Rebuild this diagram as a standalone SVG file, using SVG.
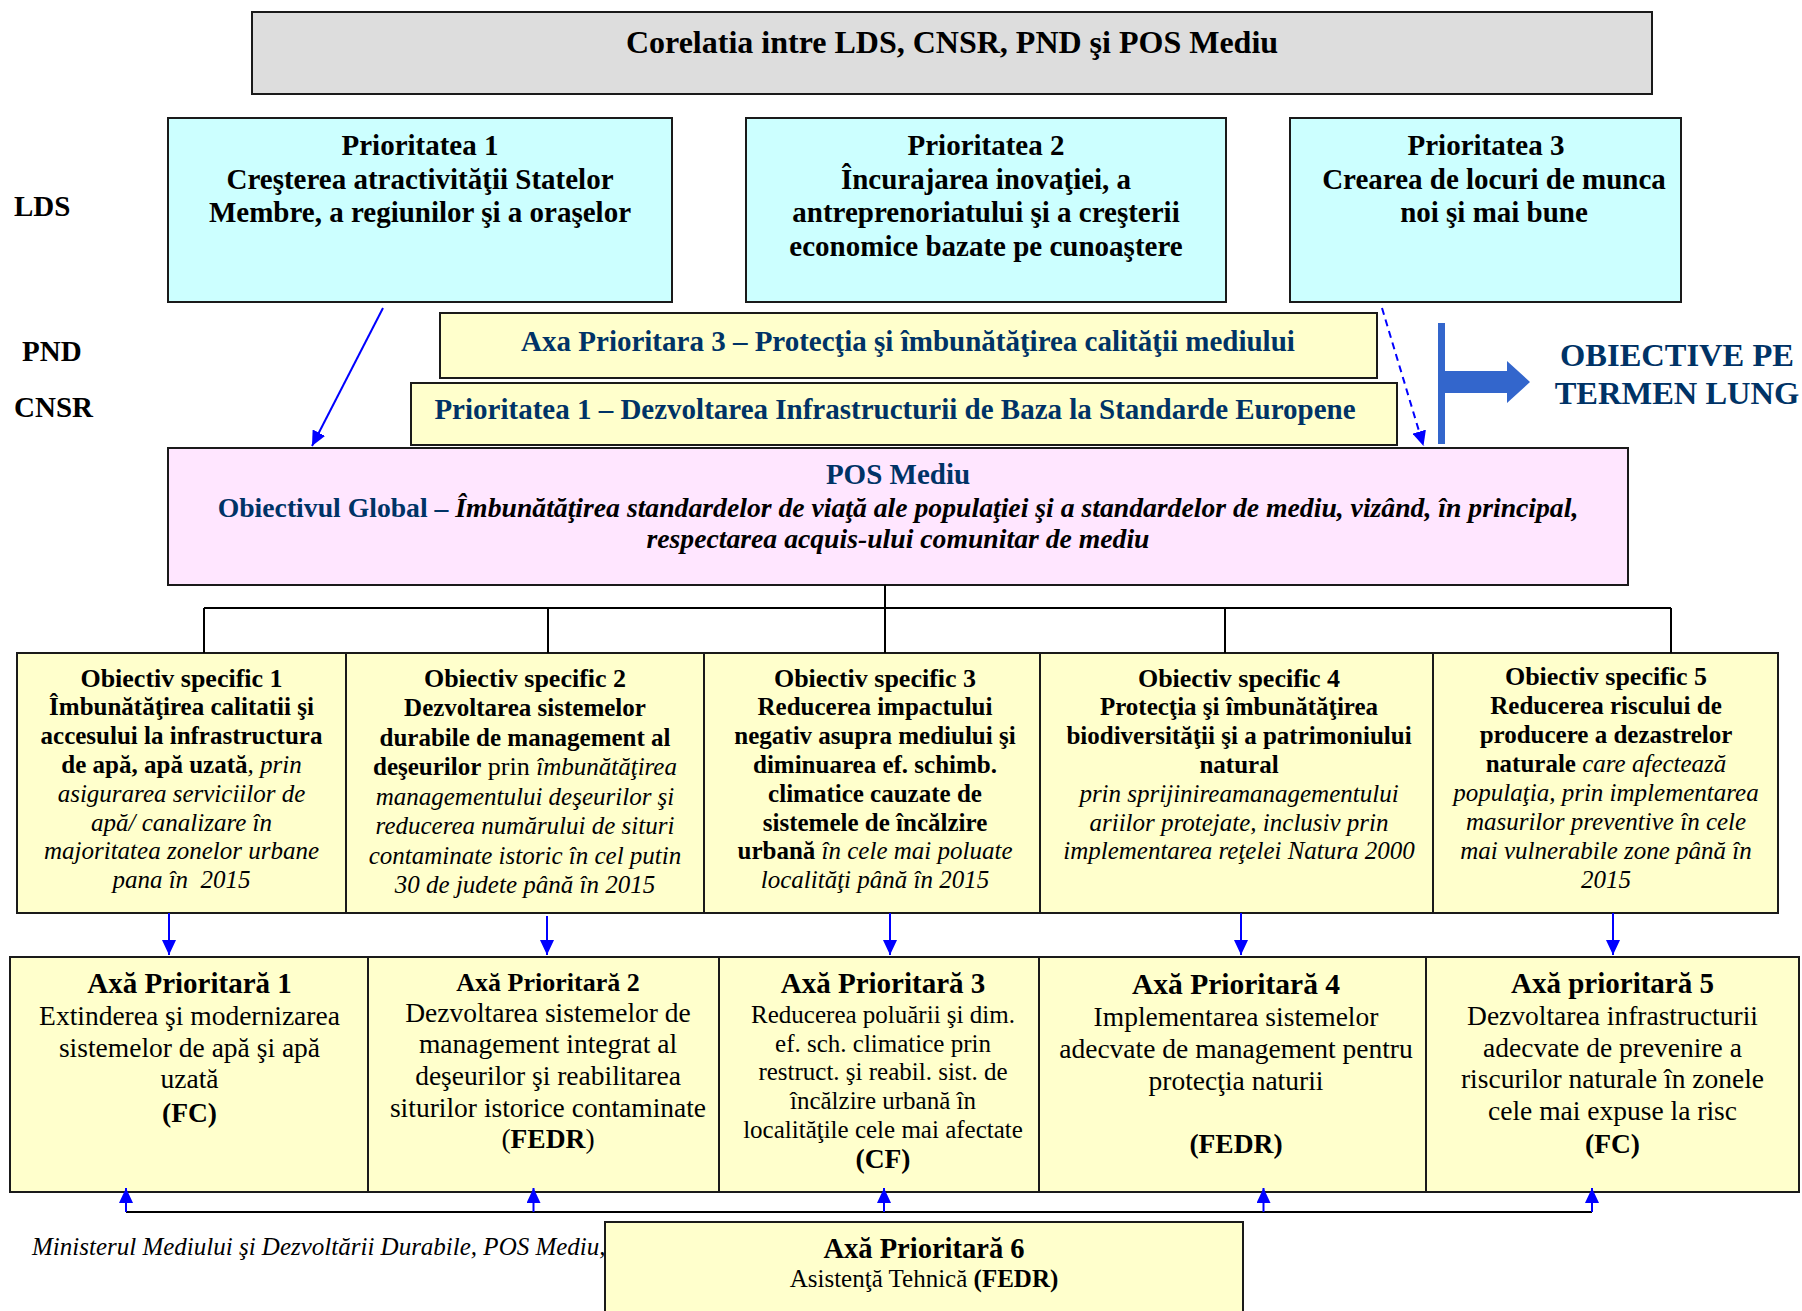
<svg xmlns="http://www.w3.org/2000/svg" width="1802" height="1311" viewBox="0 0 1802 1311">
<style>
text { font-family: "Liberation Serif", "Times New Roman", serif; fill: #000; }
.c { text-anchor: middle; }
.b { font-weight: bold; }
.i { font-style: italic; }
.navy { fill: #003366; }
.box { stroke: #1a1a1a; stroke-width: 2; }
.gray { fill: #dddddd; }
.cyan { fill: #ccffff; }
.yel { fill: #ffffcc; }
.pink { fill: #ffe6ff; }
.f29 { font-size: 29px; }
.ot { font-size: 26px; font-weight: bold; }
.ob { font-size: 25px; }
.at { font-size: 29px; font-weight: bold; }
.ab { font-size: 27.5px; }
.blk { stroke: #000; stroke-width: 2; fill: none; }
.blue { stroke: #0000ff; stroke-width: 2; fill: none; }
</style>
<defs>
<marker id="ah" markerWidth="16" markerHeight="14" refX="15" refY="7" orient="auto" markerUnits="userSpaceOnUse">
<path d="M0,0 L15,7 L0,14 Z" fill="#0000ff"/>
</marker>
</defs>

<g id="title">
<rect class="box gray" x="252" y="12" width="1400" height="82"/>
<text class="c b" x="952" y="53" font-size="32">Corelatia intre LDS, CNSR, PND şi POS Mediu</text>
</g>

<g id="labels">
<text class="b f29" x="14" y="216">LDS</text>
<text class="b f29" x="22" y="361">PND</text>
<text class="b f29" x="14" y="417">CNSR</text>
</g>

<g id="lds1">
<rect class="box cyan" x="168" y="118" width="504" height="184"/>
<text class="c b f29" x="420"><tspan x="420" y="155">Prioritatea 1</tspan><tspan x="420" y="188.5">Creşterea atractivităţii Statelor</tspan><tspan x="420" y="222">Membre, a regiunilor şi a oraşelor</tspan></text>
</g>
<g id="lds2">
<rect class="box cyan" x="746" y="118" width="480" height="184"/>
<text class="c b f29" x="986"><tspan x="986" y="155">Prioritatea 2</tspan><tspan x="986" y="188.5">Încurajarea inovaţiei, a</tspan><tspan x="986" y="222">antreprenoriatului şi a creşterii</tspan><tspan x="986" y="255.5">economice bazate pe cunoaştere</tspan></text>
</g>
<g id="lds3">
<rect class="box cyan" x="1290" y="118" width="391" height="184"/>
<text class="c b f29" x="1486"><tspan x="1486" y="155">Prioritatea 3</tspan><tspan x="1494" y="188.5">Crearea de locuri de munca</tspan><tspan x="1494" y="222">noi şi mai bune</tspan></text>
</g>

<g id="pnd">
<rect class="box yel" x="440" y="313" width="937" height="65"/>
<text class="c b f29 navy" x="908" y="351">Axa Prioritara 3 – Protecţia şi îmbunătăţirea calităţii mediului</text>
</g>
<g id="cnsr">
<rect class="box yel" x="411" y="383" width="986" height="62"/>
<text class="c b f29 navy" x="895" y="419">Prioritatea 1 – Dezvoltarea Infrastructurii de Baza la Standarde Europene</text>
</g>

<g id="pos">
<rect class="box pink" x="168" y="448" width="1460" height="137"/>
<text class="c b f29 navy" x="898" y="484">POS Mediu</text>
<text class="c b" font-size="27.7" x="898" y="517"><tspan class="navy">Obiectivul Global – </tspan><tspan class="i">Îmbunătăţirea standardelor de viaţă ale populaţiei şi a standardelor de mediu, vizând, în principal,</tspan></text>
<text class="c b i" font-size="27.7" x="898" y="548">respectarea acquis-ului comunitar de mediu</text>
</g>

<g id="longterm">
<rect x="1438" y="323" width="7" height="121" fill="#3366cc"/>
<path d="M1445,371 L1507,371 L1507,361 L1530,382 L1507,403 L1507,393 L1445,393 Z" fill="#3366cc"/>
<text class="c b navy" font-size="32.5" x="1677" y="366">OBIECTIVE PE</text>
<text class="c b navy" font-size="32.5" x="1677" y="404">TERMEN LUNG</text>
</g>

<g id="os1">
<rect class="box yel" x="17" y="653" width="329" height="260"/>
<text class="c ob" x="181.5"><tspan class="ot" x="181.5" y="686.5">Obiectiv specific 1</tspan><tspan class="b" x="181.5" y="715.3">Îmbunătăţirea calitatii şi</tspan><tspan class="b" x="181.5" y="744.1">accesului la infrastructura</tspan><tspan x="181.5" y="772.9"><tspan class="b">de apă, apă uzată</tspan><tspan class="i">, prin</tspan></tspan><tspan class="i" x="181.5" y="801.7">asigurarea serviciilor de</tspan><tspan class="i" x="181.5" y="830.5">apă/ canalizare în</tspan><tspan class="i" x="181.5" y="859.3">majoritatea zonelor urbane</tspan><tspan class="i" x="181.5" y="888.1">pana în&#160; 2015</tspan></text>
</g>
<g id="os2">
<rect class="box yel" x="346" y="653" width="358" height="260"/>
<text class="c ob" x="525"><tspan class="ot" x="525" y="686.5">Obiectiv specific 2</tspan><tspan class="b" x="525" y="716">Dezvoltarea sistemelor</tspan><tspan class="b" x="525" y="745.5">durabile de management al</tspan><tspan x="525" y="775"><tspan class="b">deşeurilor</tspan><tspan font-size="26"> prin </tspan><tspan class="i">îmbunătăţirea</tspan></tspan><tspan class="i" x="525" y="804.5">managementului deşeurilor şi</tspan><tspan class="i" x="525" y="834">reducerea numărului de situri</tspan><tspan class="i" x="525" y="863.5">contaminate istoric în cel putin</tspan><tspan class="i" x="525" y="893">30 de judete până în 2015</tspan></text>
</g>
<g id="os3">
<rect class="box yel" x="704" y="653" width="336" height="260"/>
<text class="c ob" x="875"><tspan class="ot" x="875" y="686.5">Obiectiv specific 3</tspan><tspan class="b" x="875" y="715.3">Reducerea impactului</tspan><tspan class="b" x="875" y="744.1">negativ asupra mediului şi</tspan><tspan class="b" x="875" y="772.9">diminuarea ef. schimb.</tspan><tspan class="b" x="875" y="801.7">climatice cauzate de</tspan><tspan class="b" x="875" y="830.5">sistemele de încălzire</tspan><tspan x="875" y="859.3"><tspan class="b">urbană</tspan><tspan class="i"> în cele mai poluate</tspan></tspan><tspan class="i" x="875" y="888.1">localităţi până în 2015</tspan></text>
</g>
<g id="os4">
<rect class="box yel" x="1040" y="653" width="393" height="260"/>
<text class="c ob" x="1239"><tspan class="ot" x="1239" y="686.5">Obiectiv specific 4</tspan><tspan class="b" x="1239" y="715.3">Protecţia şi îmbunătăţirea</tspan><tspan class="b" x="1239" y="744.1">biodiversităţii şi a patrimoniului</tspan><tspan class="b" x="1239" y="772.9">natural</tspan><tspan class="i" x="1239" y="801.7">prin sprijinireamanagementului</tspan><tspan class="i" x="1239" y="830.5">ariilor protejate, inclusiv prin</tspan><tspan class="i" x="1239" y="859.3">implementarea reţelei Natura 2000</tspan></text>
</g>
<g id="os5">
<rect class="box yel" x="1433" y="653" width="345" height="260"/>
<text class="c ob" x="1606"><tspan class="ot" x="1606" y="685">Obiectiv specific 5</tspan><tspan class="b" x="1606" y="714">Reducerea riscului de</tspan><tspan class="b" x="1606" y="743">producere a dezastrelor</tspan><tspan x="1606" y="772"><tspan class="b">naturale</tspan><tspan class="i"> care afectează</tspan></tspan><tspan class="i" x="1606" y="801">populaţia, prin implementarea</tspan><tspan class="i" x="1606" y="830">masurilor preventive în cele</tspan><tspan class="i" x="1606" y="859">mai vulnerabile zone până în</tspan><tspan class="i" x="1606" y="888">2015</tspan></text>
</g>

<g id="ax1">
<rect class="box yel" x="10" y="957" width="358" height="235"/>
<text class="c ab" x="189.5"><tspan class="at" x="189.5" y="993.3">Axă Prioritară 1</tspan><tspan x="189.5" y="1025">Extinderea şi modernizarea</tspan><tspan x="189.5" y="1056.7">sistemelor de apă şi apă</tspan><tspan x="189.5" y="1088.3">uzată</tspan><tspan class="b" x="189.5" y="1121.7">(FC)</tspan></text>
</g>
<g id="ax2">
<rect class="box yel" x="368" y="957" width="351" height="235"/>
<text class="c ab" x="548"><tspan class="b" font-size="26" x="548" y="990.7">Axă Prioritară 2</tspan><tspan x="548" y="1021.7">Dezvoltarea sistemelor de</tspan><tspan x="548" y="1053.3">management integrat al</tspan><tspan x="548" y="1085">deşeurilor şi reabilitarea</tspan><tspan x="548" y="1116.7">siturilor istorice contaminate</tspan><tspan x="548" y="1148.3">(<tspan class="b">FEDR</tspan>)</tspan></text>
</g>
<g id="ax3">
<rect class="box yel" x="719" y="957" width="320" height="235"/>
<text class="c" font-size="25" x="883"><tspan class="at" x="883" y="993.3">Axă Prioritară 3</tspan><tspan x="883" y="1022.7">Reducerea poluării şi dim.</tspan><tspan x="883" y="1051.5">ef. sch. climatice prin</tspan><tspan x="883" y="1080.3">restruct. şi reabil. sist. de</tspan><tspan x="883" y="1109.1">încălzire urbană în</tspan><tspan x="883" y="1138.3">localităţile cele mai afectate</tspan><tspan class="b" font-size="27.5" x="883" y="1168.3">(CF)</tspan></text>
</g>
<g id="ax4">
<rect class="box yel" x="1039" y="957" width="387" height="235"/>
<text class="c ab" x="1236"><tspan class="b" font-size="29.5" x="1236" y="994">Axă Prioritară 4</tspan><tspan x="1236" y="1026">Implementarea sistemelor</tspan><tspan x="1236" y="1058.3">adecvate de management pentru</tspan><tspan x="1236" y="1090">protecţia naturii</tspan><tspan class="b" x="1236" y="1153.3">(FEDR)</tspan></text>
</g>
<g id="ax5">
<rect class="box yel" x="1426" y="957" width="373" height="235"/>
<text class="c ab" x="1612.5"><tspan class="at" x="1612.5" y="993.3">Axă prioritară 5</tspan><tspan x="1612.5" y="1025">Dezvoltarea infrastructurii</tspan><tspan x="1612.5" y="1056.7">adecvate de prevenire a</tspan><tspan x="1612.5" y="1088.3">riscurilor naturale în zonele</tspan><tspan x="1612.5" y="1120">cele mai expuse la risc</tspan><tspan class="b" x="1612.5" y="1153.3">(FC)</tspan></text>
</g>

<text class="i" font-size="25" x="32" y="1255">Ministerul Mediului şi Dezvoltării Durabile, POS Mediu,</text>

<g id="ax6">
<rect class="box yel" x="605" y="1222" width="638" height="100"/>
<text class="c b" font-size="28.5" x="924" y="1258">Axă Prioritară 6</text>
<text class="c" font-size="25" x="924" y="1286.5">Asistenţă Tehnică <tspan class="b">(FEDR)</tspan></text>
</g>

<g id="connectors">
<line class="blue" x1="383" y1="308" x2="312" y2="446" marker-end="url(#ah)"/>
<line class="blue" x1="1382" y1="308" x2="1423.5" y2="446" stroke-dasharray="7,5" marker-end="url(#ah)"/>
<path class="blk" d="M885,585 V608 M204,608 H1671 M204,608 V653 M548,608 V653 M885,608 V653 M1225,608 V653 M1671,608 V653"/>
<line class="blue" x1="169" y1="913" x2="169" y2="955" marker-end="url(#ah)"/>
<line class="blue" x1="547" y1="916" x2="547" y2="955" marker-end="url(#ah)"/>
<line class="blue" x1="890" y1="913" x2="890" y2="955" marker-end="url(#ah)"/>
<line class="blue" x1="1241" y1="913" x2="1241" y2="955" marker-end="url(#ah)"/>
<line class="blue" x1="1613" y1="913" x2="1613" y2="955" marker-end="url(#ah)"/>
<path class="blk" d="M126,1212 H1592"/>
<line class="blue" x1="126" y1="1212" x2="126" y2="1188" marker-end="url(#ah)"/>
<line class="blue" x1="533.5" y1="1212" x2="533.5" y2="1188" marker-end="url(#ah)"/>
<line class="blue" x1="884" y1="1212" x2="884" y2="1188" marker-end="url(#ah)"/>
<line class="blue" x1="1263.5" y1="1212" x2="1263.5" y2="1188" marker-end="url(#ah)"/>
<line class="blue" x1="1592" y1="1212" x2="1592" y2="1188" marker-end="url(#ah)"/>
</g>
</svg>
